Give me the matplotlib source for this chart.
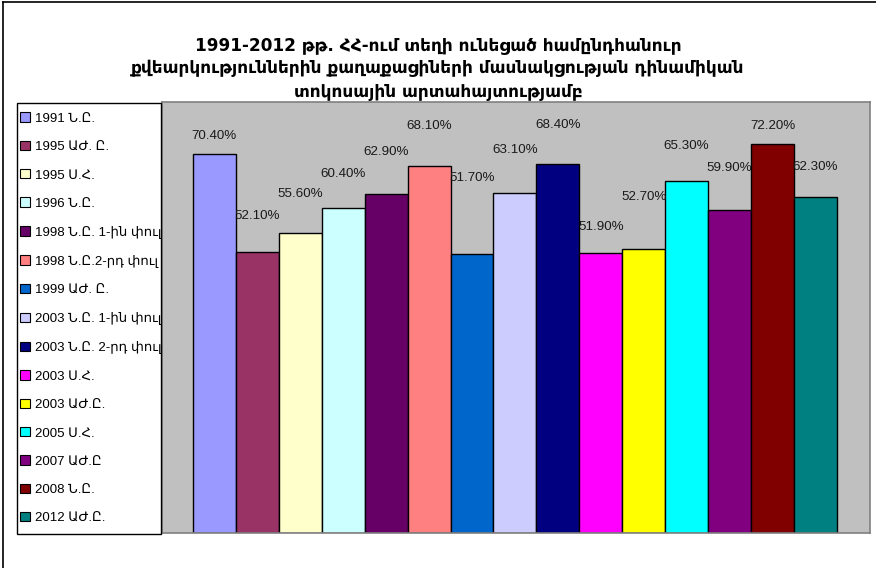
import numpy as np
import matplotlib
matplotlib.use("Agg")
import matplotlib.pyplot as plt
from matplotlib.patches import Rectangle
from matplotlib.lines import Line2D

labels = ["1991 Ն.Ը.", "1995 ԱԺ. Ը.", "1995 Ս.Հ.", "1996 Ն.Ը.",
          "1998 Ն.Ը. 1-ին փուլ", "1998 Ն.Ը.2-րդ փուլ", "1999 ԱԺ. Ը.",
          "2003 Ն.Ը. 1-ին փուլ", "2003 Ն.Ը. 2-րդ փուլ", "2003 Ս.Հ.",
          "2003 ԱԺ.Ը.", "2005 Ս.Հ.", "2007 ԱԺ.Ը", "2008 Ն.Ը.", "2012 ԱԺ.Ը."]
turnout = [70.4, 52.1, 55.6, 60.4, 62.9, 68.1, 51.7, 63.1,
           68.4, 51.9, 52.7, 65.3, 59.9, 72.2, 62.3]
colors = ["#9999FF", "#993366", "#FFFFCC", "#CCFFFF", "#660066", "#FF8080",
          "#0066CC", "#CCCCFF", "#000080", "#FF00FF", "#FFFF00", "#00FFFF",
          "#800080", "#800000", "#008080"]
# label offset above bar top, in pixels (labels were hand-moved in the original)
label_offsets = [18, 36, 39, 34, 42, 40, 76, 43, 39, 26, 52, 35, 42, 18, 30]

title = ("1991-2012 թթ. ՀՀ-ում տեղի ունեցած համընդհանուր\n"
         "քվեարկություններին քաղաքացիների մասնակցության դինամիկան\n"
         "տոկոսային արտահայտությամբ")

W, H = 876, 568
fig = plt.figure(figsize=(W / 100, H / 100), dpi=100)
fonts = ["Liberation Sans", "DejaVu Sans"]

ax = fig.add_axes([162 / W, 1 - 533 / H, (870 - 162) / W, (533 - 102) / H])
ax.set_facecolor("#C0C0C0")
for s in ax.spines.values():
    s.set_color("#808080")
    s.set_linewidth(1.2)

x = np.arange(len(turnout))
bars = ax.bar(x, turnout, width=1.0, color=colors, edgecolor="black", linewidth=1.0)
ax.set_xlim(-0.5 - 0.72, len(turnout) - 0.5 + 0.77)
ax.set_ylim(0, 80)
ax.set_xticks([])
ax.set_yticks([])

for b, v, off in zip(bars, turnout, label_offsets):
    ax.annotate(f"{v:.2f}%", (b.get_x() + b.get_width() / 2, v),
                xytext=(0, off * 0.72), textcoords="offset points",
                ha="center", va="center", fontsize=9.6, family=fonts, color="#1a1a1a")

fig.text(0.5, 1 - 68 / H, title, ha="center", va="center", fontsize=12.2,
         fontweight="bold", family="DejaVu Sans", linespacing=1.35)

# legend box
box = Rectangle((17 / W, 1 - 534 / H), (161 - 17) / W, (534 - 103) / H,
                transform=fig.transFigure, facecolor="white", edgecolor="black",
                linewidth=1.0, zorder=2)
fig.add_artist(box)
handles = [Rectangle((0, 0), 1, 1, facecolor=c, edgecolor="black", linewidth=0.8)
           for c in colors]
leg = fig.legend(handles, labels, loc="upper left",
                 bbox_to_anchor=(15 / W, 1 - 107 / H), frameon=False,
                 prop={"family": fonts, "size": 9.5}, labelspacing=1.22,
                 handlelength=0.7, handleheight=0.7, handletextpad=0.45,
                 borderaxespad=0)
leg.set_zorder(3)
for t in leg.get_texts():
    t.set_clip_path(box)

# figure frame (left and top edges)
fig.add_artist(Line2D([2.5 / W, 2.5 / W], [0, 1 - 1.5 / H], transform=fig.transFigure,
                      color="black", linewidth=1.2))
fig.add_artist(Line2D([2.5 / W, 1], [1 - 1.5 / H, 1 - 1.5 / H], transform=fig.transFigure,
                      color="black", linewidth=1.2))

fig.savefig("out.png", dpi=100)
